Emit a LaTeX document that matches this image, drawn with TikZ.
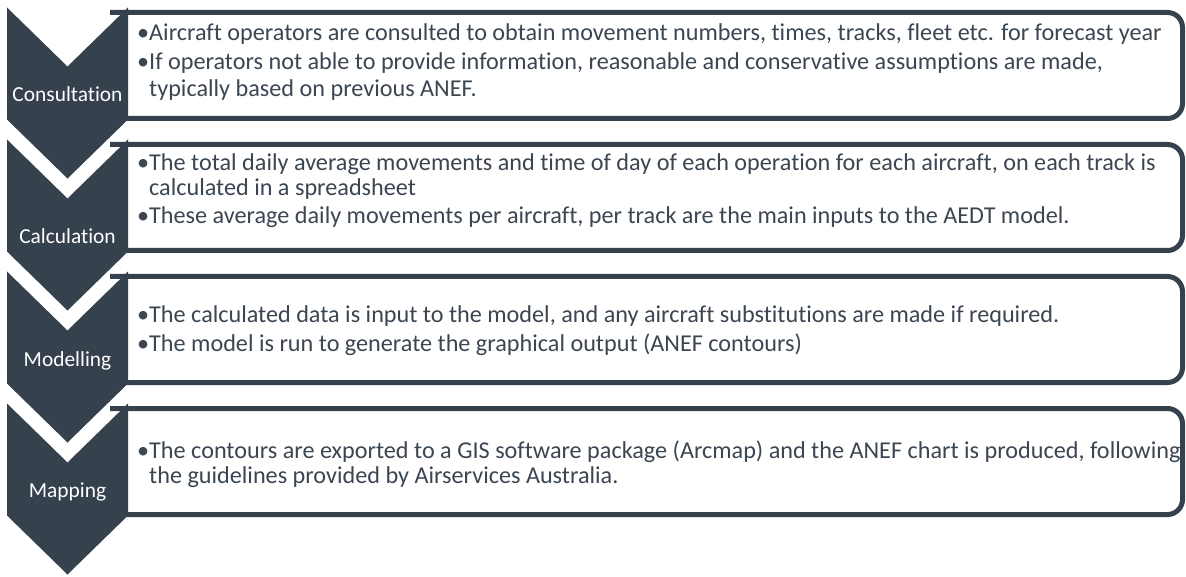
\documentclass[tikz,border=0pt]{standalone}
\usepackage{fontspec}
\setmainfont{Carlito}[Ligatures={NoCommon}]
\definecolor{slate}{RGB}{54,65,78}
\definecolor{txt}{RGB}{59,70,82}
\newcommand{\bul}{\makebox[12pt][l]{\textbullet}}
\begin{document}
\begin{tikzpicture}[x=1pt,y=-1pt,
  chev/.style={fill=slate},
  panel/.style={draw=slate,line width=5pt,fill=white,rounded corners=15pt},
  lab/.style={text=white,font=\fontsize{21.4}{25}\selectfont,anchor=base,inner sep=0pt},
  item/.style={text=txt,font=\fontsize{24.2}{28}\selectfont,anchor=base west,inner sep=0pt}]
\useasboundingbox (0,0) rectangle (1186,577);
% panels
\foreach \k in {0,1,2,3}{
  \pgfmathsetmacro{\t}{12.5+132*\k}
  \pgfmathsetmacro{\b}{118.5+132*\k}
  \draw[panel] (110,\t) -- (1182.5,\t) -- (1182.5,\b) -- (110,\b);
}
% chevrons
\foreach \k in {0,1,2,3}{
  \pgfmathsetmacro{\t}{7.5+132*\k}
  \fill[chev] (7,\t) -- (67.5,\t+59) -- (128,\t) -- (128,\t+112) -- (67.5,\t+171) -- (7,\t+112) -- cycle;
}
% labels
\node[lab] (l1) at (67.5,102) {Consultation};
\node[lab] (l2) at (67.5,244) {Calculation};
\node[lab] (l3) at (67.5,366) {Modelling};
\node[lab] (l4) at (67.5,497) {Mapping};
% box 1
\node[item] (a1) at (137,41) {\bul Aircraft operators are consulted to obtain movement numbers, times, tracks, fleet etc. for forecast year};
\node[item] (a2) at (137,70) {\bul If operators not able to provide information, reasonable and conservative assumptions are made,};
\node[item] (a3) at (149,97) {typically based on previous ANEF.};
% box 2
\node[item] (b1) at (137,171) {\bul The total daily average movements and time of day of each operation for each aircraft, on each track is};
\node[item] (b2) at (149,196) {calculated in a spreadsheet};
\node[item] (b3) at (137,224) {\bul These average daily movements per aircraft, per track are the main inputs to the AEDT model.};
% box 3
\node[item] (c1) at (137,323) {\bul The calculated data is input to the model, and any aircraft substitutions are made if required.};
\node[item] (c2) at (137,352) {\bul The model is run to generate the graphical output (ANEF contours)};
% box 4
\node[item] (d1) at (137,458) {\bul The contours are exported to a GIS software package (Arcmap) and the ANEF chart is produced, following};
\node[item] (d2) at (149,483) {the guidelines provided by Airservices Australia.};
\end{tikzpicture}
\end{document}
